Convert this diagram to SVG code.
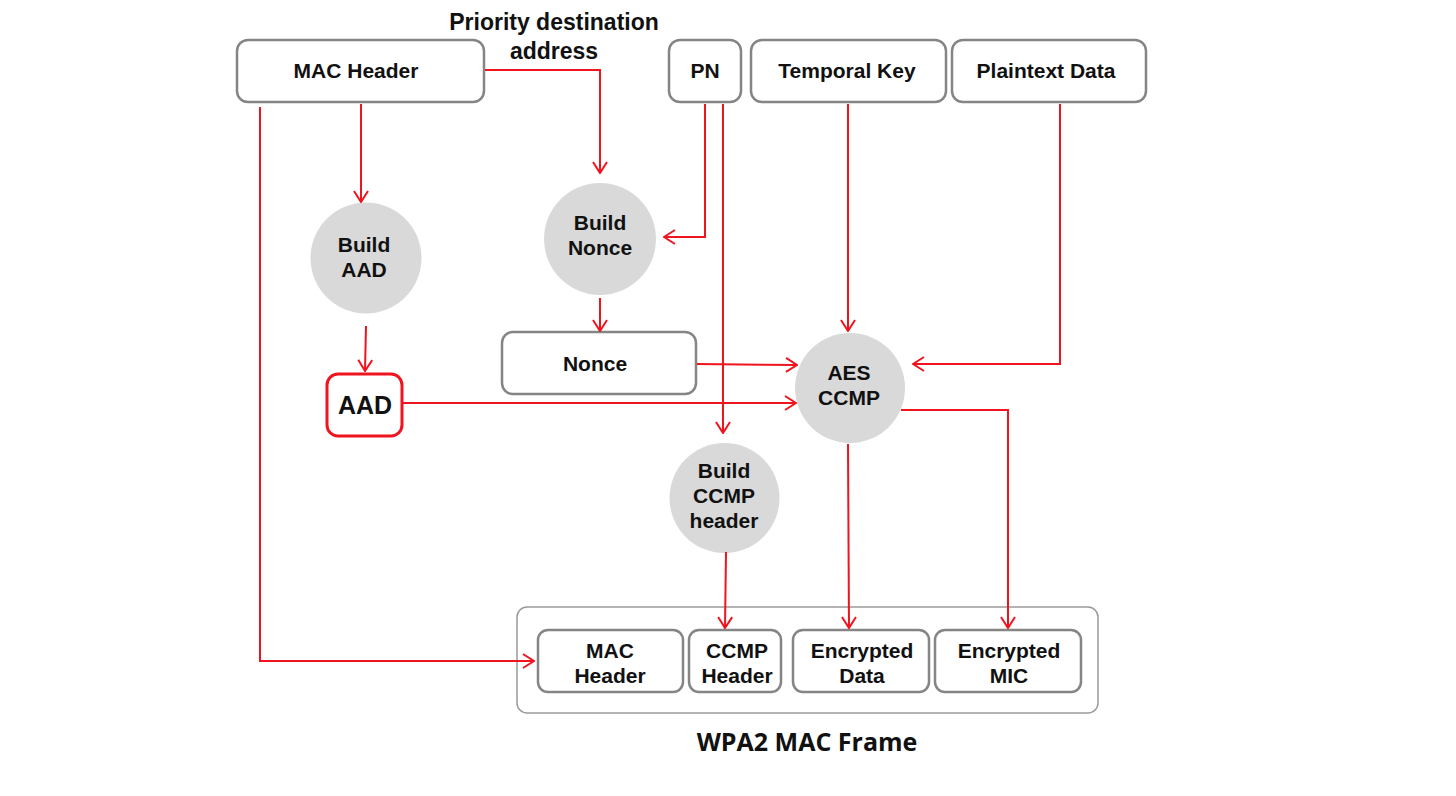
<svg xmlns="http://www.w3.org/2000/svg" width="1456" height="796" viewBox="0 0 1456 796">
<defs>
<marker id="arr" viewBox="0 0 13 16" refX="12" refY="8" markerWidth="13" markerHeight="16" markerUnits="userSpaceOnUse" orient="auto">
<path d="M1,1 L12,8 L1,15" fill="none" stroke="#f0141e" stroke-width="2"/>
</marker>
</defs>
<style>
.box{fill:#fff;stroke:#858585;stroke-width:2.5}
.red{fill:#fff;stroke:#f0141e;stroke-width:3}
.circ{fill:#d9d9d9;stroke:none}
.frame{fill:#fff;stroke:#9a9a9a;stroke-width:1.5}
.t{font-family:"Liberation Sans",Arial,sans-serif;font-weight:bold;font-size:21px;fill:#111;text-anchor:middle}
.c{fill:none;stroke:#f0141e;stroke-width:2;marker-end:url(#arr)}
</style>
<rect width="1456" height="796" fill="#fff"/>
<g id="priority-label"><text class="t" x="554" y="30" style="font-size:23px">Priority destination</text><text class="t" x="554" y="59" style="font-size:23px">address</text></g>
<g id="mac-header"><rect class="box" x="237" y="40" width="247" height="62" rx="11"/><text class="t" x="356" y="78">MAC Header</text></g>
<g id="pn"><rect class="box" x="669" y="40" width="72" height="62" rx="11"/><text class="t" x="705" y="78">PN</text></g>
<g id="temporal-key"><rect class="box" x="751" y="40" width="195" height="62" rx="11"/><text class="t" x="847" y="78">Temporal Key</text></g>
<g id="plaintext-data"><rect class="box" x="952" y="40" width="194" height="62" rx="11"/><text class="t" x="1046" y="78">Plaintext Data</text></g>
<g id="build-aad"><circle class="circ" cx="366" cy="258" r="55.5"/><text class="t" x="364" y="252">Build</text><text class="t" x="364" y="277">AAD</text></g>
<g id="build-nonce"><circle class="circ" cx="600" cy="239" r="56"/><text class="t" x="600" y="230">Build</text><text class="t" x="600" y="255">Nonce</text></g>
<g id="nonce"><rect class="box" x="502" y="332" width="194" height="62" rx="11"/><text class="t" x="595" y="371">Nonce</text></g>
<g id="aad"><rect class="red" x="327" y="374" width="75" height="62" rx="11"/><text class="t" x="365" y="414" style="font-size:25px">AAD</text></g>
<g id="aes-ccmp"><circle class="circ" cx="850" cy="388" r="55"/><text class="t" x="849" y="380">AES</text><text class="t" x="849" y="405">CCMP</text></g>
<g id="build-ccmp-header"><circle class="circ" cx="724.5" cy="498" r="55"/><text class="t" x="724" y="478">Build</text><text class="t" x="724" y="503">CCMP</text><text class="t" x="724" y="528">header</text></g>
<g id="wpa2-frame">
<rect class="frame" x="517" y="607" width="581" height="106" rx="10"/>
<text x="807" y="751" style="font-family:'Open Sans',sans-serif;font-weight:bold;font-size:25px;fill:#111;text-anchor:middle">WPA2 MAC Frame</text>
</g>
<g id="frame-mac-header"><rect class="box" x="538" y="630" width="145" height="62" rx="10"/><text class="t" x="610" y="658">MAC</text><text class="t" x="610" y="683">Header</text></g>
<g id="frame-ccmp-header"><rect class="box" x="689" y="630" width="92" height="62" rx="10"/><text class="t" x="737" y="658">CCMP</text><text class="t" x="737" y="683">Header</text></g>
<g id="frame-encrypted-data"><rect class="box" x="793" y="630" width="136" height="62" rx="10"/><text class="t" x="862" y="658">Encrypted</text><text class="t" x="862" y="683">Data</text></g>
<g id="frame-encrypted-mic"><rect class="box" x="935" y="630" width="146" height="62" rx="10"/><text class="t" x="1009" y="658">Encrypted</text><text class="t" x="1009" y="683">MIC</text></g>
<g id="connectors">
<path class="c" d="M260,107 V661 H534"/>
<path class="c" d="M361,104 V202"/>
<path class="c" d="M485,70 H600 V173"/>
<path class="c" d="M705,104 V237 H664"/>
<path class="c" d="M723,104 V433"/>
<path class="c" d="M848,104 V331"/>
<path class="c" d="M1060,104 V364 H913"/>
<path class="c" d="M600,298 V331"/>
<path class="c" d="M366,326 L365,371"/>
<path class="c" d="M697,364 L797,365"/>
<path class="c" d="M403,403 H796"/>
<path class="c" d="M901,410 H1008 V628"/>
<path class="c" d="M848,444 L849,628"/>
<path class="c" d="M726,552 L725,628"/>
</g>
</svg>
